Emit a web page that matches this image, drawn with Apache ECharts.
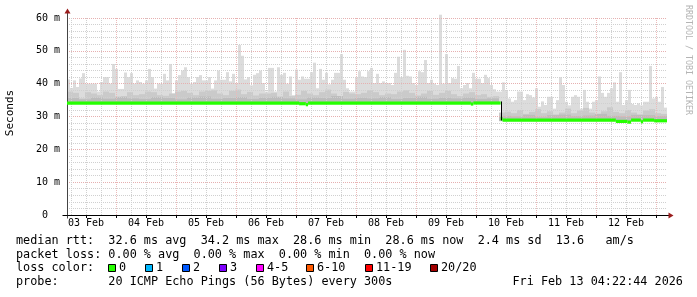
<!DOCTYPE html>
<html><head><meta charset="utf-8">
<script src="https://cdn.jsdelivr.net/npm/echarts@6/dist/echarts.min.js"></script>
<style>html,body{margin:0;padding:0;background:#fff}#c{width:697px;height:297px}</style>
</head><body><div id="c"></div>
<script>
// ---- time axis: hours since 03 Feb 00:00 ----
const startHour = 4.37;   // 03 Feb 04:22
const endHour = 244.37;   // 13 Feb 04:22

// ---- smoke (max ping per 1.2 h bucket), in ms ----
const smokeBucketHours = 1.2;
const smokeMax = [
41.3,38.7,41.0,39.0,41.6,43.2,40.0,40.0,40.0,40.0,
37.6,40.5,42.0,42.0,40.0,46.0,44.5,38.4,38.4,43.4,
42.0,43.2,40.0,41.0,40.5,40.0,41.0,44.5,42.0,38.5,
40.0,40.0,43.0,41.0,46.0,37.0,41.0,42.6,44.0,45.0,
42.0,40.0,40.5,42.0,42.6,41.0,41.0,42.0,38.5,41.0,
44.0,41.2,41.2,43.5,40.7,43.0,40.2,51.8,48.5,41.3,
42.0,39.5,42.7,43.2,44.0,40.2,37.6,44.8,44.8,37.6,
45.0,42.7,43.3,40.0,42.2,36.5,44.3,41.2,42.2,41.5,
41.5,43.5,46.4,38.6,44.5,41.2,43.3,39.8,41.2,43.3,
43.3,49.0,41.2,38.6,37.6,37.6,42.0,43.8,42.2,42.0,
43.8,44.8,40.2,43.0,40.2,40.7,40.2,40.2,39.6,43.3,
48.2,42.0,50.3,42.4,42.2,40.2,39.6,43.8,43.5,47.2,
40.2,41.2,40.0,39.6,61.0,40.0,49.0,40.2,41.7,41.5,
45.4,38.6,39.6,40.2,38.6,43.3,41.5,41.5,40.2,42.7,
41.7,39.6,38.3,37.6,37.6,40.4,38.0,35.5,34.5,35.0,
37.6,37.6,35.0,36.8,36.5,35.8,38.6,33.0,34.6,33.5,
36.0,36.0,32.4,35.0,42.0,39.6,34.5,33.4,36.0,36.5,
36.0,32.4,38.1,34.5,32.4,34.5,35.0,42.2,37.2,36.0,
37.2,38.6,40.4,34.5,43.5,33.5,35.0,38.1,33.8,33.5,
34.0,33.4,34.5,34.5,45.4,35.5,36.0,34.5,39.0,32.7
];
// denser part of the smoke (2.4 h buckets)
const midBucketHours = 2.4;
const smokeMid = [
37.6,37.2,35.5,37.4,37.0,36.5,37.6,37.2,36.0,36.2,
37.4,36.5,36.8,37.6,37.4,36.5,36.3,37.0,37.6,37.8,
37.2,36.5,37.6,37.8,38.0,37.0,36.5,37.8,38.2,36.8,
37.5,36.4,37.0,37.0,37.2,36.0,37.6,36.2,36.6,37.8,
37.0,36.5,37.4,38.2,37.0,36.2,37.5,37.0,36.8,37.2,
38.0,37.4,36.5,37.0,36.8,37.6,38.0,37.2,36.4,37.0,
37.8,36.6,37.2,37.8,36.8,36.2,37.0,37.4,36.5,36.8,
36.0,36.2,31.2,31.5,31.0,32.0,30.8,31.4,32.2,31.0,
31.6,30.6,31.2,32.4,31.0,31.8,32.6,31.2,30.8,31.6,
32.8,31.4,31.0,32.0,31.2,30.6,31.8,32.2,31.0,30.8
];
// densest core of the smoke (4.8 h buckets)
const darkBucketHours = 4.8;
const smokeDark = [
35.6,35.2,35.8,35.4,36.0,35.5,35.3,35.9,35.6,35.2,
35.8,36.1,35.4,35.6,35.9,35.3,35.7,36.0,35.5,35.2,
35.8,35.6,36.2,35.4,35.7,35.5,35.9,35.3,35.6,36.0,
35.4,35.7,35.5,35.8,35.3,35.5,30.2,30.0,30.5,29.8,
30.4,30.6,30.1,30.3,30.8,30.2,30.0,30.5,30.4,30.1
];
// minimum ping (change points)
const smokeMinTimes = [4.37, 177.8];
const smokeMinValues = [33.8, 28.6];

// median rtt (change points: value holds from its time until the next one)
const medianTimes  = [4.37, 97.2, 99.9, 100.8, 165.9, 166.9, 177.8, 178.6, 223.9, 228.5, 230.0, 233.9, 234.8, 239.2];
const medianValues = [34.1, 33.9, 33.6, 34.1, 33.8, 34.1, 29.3, 28.9, 28.5, 28.3, 28.9, 28.4, 28.9, 28.7];

// axis ticks / labels
const xLabelHours = [12, 36, 60, 84, 108, 132, 156, 180, 204, 228];
const xLabels = ['03 Feb','04 Feb','05 Feb','06 Feb','07 Feb','08 Feb','09 Feb','10 Feb','11 Feb','12 Feb'];
const yTicks = [0, 10, 20, 30, 40, 50, 60];
const yLabels = ['0  ', '10 m', '20 m', '30 m', '40 m', '50 m', '60 m'];

// legend texts
const statLines = [
  'median rtt:  32.6 ms avg  34.2 ms max  28.6 ms min  28.6 ms now  2.4 ms sd  13.6   am/s',
  'packet loss: 0.00 % avg  0.00 % max  0.00 % min  0.00 % now',
  'loss color:',
  'probe:       20 ICMP Echo Pings (56 Bytes) every 300s'
];
const stampText = 'Fri Feb 13 04:22:44 2026';
const lossLabels = ['0', '1', '2', '3', '4-5', '6-10', '11-19', '20/20'];
const lossColors = ['#26ff00', '#00b8ff', '#0059ff', '#7e00ff', '#ff00ff', '#ff5a00', '#ff0000', '#a10000'];

// ---------------------------------------------------------------
const MONO = '"DejaVu Sans Mono", monospace';
const minorHours = []; for (let h = 6; h <= 240; h += 6) minorHours.push(h);
const majorHours = []; for (let h = 24; h <= 240; h += 24) majorHours.push(h);
const tickHours = []; for (let h = 12; h <= 240; h += 12) tickHours.push(h);

function stepLookup(times, values, t) {
  let v = values[0];
  for (let i = 0; i < times.length; i++) if (times[i] <= t) v = values[i];
  return v;
}
function smokeSeries(tops, bucket, color, z) {
  const data = tops.map((v, i) => {
    const t0 = startHour + i * bucket, t1 = t0 + bucket;
    return [t0, t1, stepLookup(smokeMinTimes, smokeMinValues, (t0 + t1) / 2), v];
  });
  return {
    type: 'custom', silent: true, z: z, clip: false, xAxisIndex: 2,
    encode: {x: [0, 1], y: [2, 3]},
    renderItem: function (params, api) {
      const a = api.coord([api.value(0), api.value(3)]);
      const b = api.coord([api.value(1), api.value(2)]);
      return {type: 'rect', shape: {x: a[0], y: a[1], width: b[0] - a[0], height: b[1] - a[1]},
              style: {fill: color}};
    },
    data: data
  };
}

// median as held segments [tStart, tEnd, value]
const medianSegments = medianTimes.map((t, i) => [t, i + 1 < medianTimes.length ? medianTimes[i + 1] : endHour, medianValues[i]]);
// vertical connectors where the median jumps [t, from, to]
const medianJumps = medianTimes.slice(1).map((t, i) => [t, medianValues[i], medianValues[i + 1]])
  .filter(j => Math.abs(j[1] - j[2]) > 3);

const GREEN_W = 3.2;
const medianSeries = {
  type: 'custom', silent: true, z: 4, clip: true, xAxisIndex: 2,
  encode: {x: [0, 1], y: 2},
  renderItem: function (params, api) {
    const a = api.coord([api.value(0), api.value(2)]);
    const b = api.coord([api.value(1), api.value(2)]);
    return {type: 'rect', shape: {x: a[0], y: a[1] - GREEN_W / 2, width: b[0] - a[0], height: GREEN_W},
            style: {fill: '#26ff00'}};
  },
  data: medianSegments
};
const jumpSeries = {
  type: 'custom', silent: true, z: 5, clip: true, xAxisIndex: 2,
  encode: {x: 0, y: [1, 2]},
  renderItem: function (params, api) {
    const a = api.coord([api.value(0), api.value(1)]);
    const b = api.coord([api.value(0), api.value(2)]);
    const x = Math.round(a[0]) + 0.5;
    return {type: 'line', shape: {x1: x, y1: a[1] - GREEN_W / 2, x2: x, y2: b[1] + GREEN_W / 2},
            style: {stroke: '#000', lineWidth: 1}};
  },
  data: medianJumps
};

const hiddenAxisBase = {
  type: 'value', min: startHour, max: endHour, z: 2,
  axisLine: {show: false}, axisLabel: {show: false}
};

const chart = echarts.init(document.getElementById('c'), null, {renderer: 'canvas', width: 697, height: 297});
chart.setOption({
  animation: false,
  backgroundColor: '#ffffff',
  grid: {left: 67, top: 18, width: 600, height: 197, outerBoundsMode: 'none'},
  xAxis: [
    Object.assign({}, hiddenAxisBase, {
      axisTick: {show: false, customValues: minorHours},
      splitLine: {show: true, lineStyle: {color: '#d0d0d0', width: 1, type: [1, 1]}}
    }),
    Object.assign({}, hiddenAxisBase, {
      axisTick: {show: false, customValues: majorHours},
      splitLine: {show: true, lineStyle: {color: '#ebbaba', width: 1, type: [1, 1]}}
    }),
    {
      type: 'value', min: startHour, max: endHour, z: 2, position: 'bottom',
      axisLine: {show: true, onZero: false, lineStyle: {color: '#000', width: 1}},
      axisTick: {show: true, customValues: tickHours, length: 3, lineStyle: {color: '#000'}},
      axisLabel: {customValues: xLabelHours, margin: 3, color: '#000', fontFamily: MONO, fontSize: 10,
                  formatter: v => xLabels[xLabelHours.indexOf(Math.round(v))]},
      splitLine: {show: false}
    }
  ],
  yAxis: [{
    type: 'value', min: 0, max: 60, interval: 10, z: 2,
    axisLine: {show: true, onZero: false, lineStyle: {color: '#444', width: 1}},
    axisTick: {show: false},
    axisLabel: {margin: 7, color: '#000', fontFamily: MONO, fontSize: 10,
                formatter: v => yLabels[yTicks.indexOf(Math.round(v))]},
    splitLine: {show: true, lineStyle: {color: '#e6b0b0', width: 1, type: [1, 1]}},
    minorTick: {show: false, splitNumber: 5},
    minorSplitLine: {show: true, lineStyle: {color: '#d0d0d0', width: 1, type: [1, 1]}}
  }],
  series: [
    smokeSeries(smokeMax, smokeBucketHours, '#dcdcdc', 1),
    smokeSeries(smokeMid, midBucketHours, '#cacaca', 1),
    smokeSeries(smokeDark, darkBucketHours, '#bcbcbc', 1),
    medianSeries,
    jumpSeries
  ]
});

// ---- decorations: arrows, titles, legend ----
const pTop = chart.convertToPixel({xAxisIndex: 2, yAxisIndex: 0}, [startHour, 60]);
const pOrigin = chart.convertToPixel({xAxisIndex: 2, yAxisIndex: 0}, [startHour, 0]);
const pEnd = chart.convertToPixel({xAxisIndex: 2, yAxisIndex: 0}, [endHour, 0]);
const ax = Math.round(pOrigin[0]) + 0.5, ay = Math.round(pOrigin[1]) + 0.5;
const arrowColor = '#9a1c1c';
const g = [];
g.push({type: 'line', z: 10, shape: {x1: ax, y1: pTop[1], x2: ax, y2: pTop[1] - 5}, style: {stroke: '#444', lineWidth: 1}});
g.push({type: 'line', z: 10, shape: {x1: ax, y1: ay, x2: ax, y2: ay + 3}, style: {stroke: '#444', lineWidth: 1}});
g.push({type: 'line', z: 10, shape: {x1: ax - 5, y1: ay, x2: ax, y2: ay}, style: {stroke: '#000', lineWidth: 1}});
g.push({type: 'line', z: 10, shape: {x1: pEnd[0], y1: ay, x2: pEnd[0] + 2, y2: ay}, style: {stroke: '#000', lineWidth: 1}});
g.push({type: 'polygon', z: 10, shape: {points: [[ax - 3, pTop[1] - 4.5], [ax + 3, pTop[1] - 4.5], [ax, pTop[1] - 9.5]]}, style: {fill: arrowColor}});
g.push({type: 'polygon', z: 10, shape: {points: [[pEnd[0] + 1.5, ay - 3], [pEnd[0] + 1.5, ay + 3], [pEnd[0] + 6.5, ay]]}, style: {fill: arrowColor}});

g.push({type: 'text', z: 10, x: 10.5, y: 113, rotation: Math.PI / 2,
        style: {text: 'Seconds', x: 0, y: 0, align: 'center', verticalAlign: 'middle', textAlign: 'center', textVerticalAlign: 'middle',
                font: '11px ' + MONO, fill: '#000'}});
g.push({type: 'text', z: 10, x: 688, y: 60, rotation: -Math.PI / 2,
        style: {text: 'RRDTOOL / TOBI OETIKER', x: 0, y: 0, align: 'center', verticalAlign: 'middle', textAlign: 'center', textVerticalAlign: 'middle',
                font: '8.3px ' + MONO, fill: '#b4b4b4'}});

const rowY = [241, 254.7, 268.4, 282];
const legendFont = '11.8px ' + MONO;
statLines.forEach((s, i) => {
  g.push({type: 'text', z: 10, style: {text: s, x: 16, y: rowY[i], align: 'left', verticalAlign: 'middle',
          textAlign: 'left', textVerticalAlign: 'middle', font: legendFont, fill: '#000'}});
});
g.push({type: 'text', z: 10, style: {text: stampText, x: 512.5, y: rowY[3], align: 'left', verticalAlign: 'middle',
        textAlign: 'left', textVerticalAlign: 'middle', font: legendFont, fill: '#000'}});
const boxX = [108.5, 145.5, 182.5, 219.5, 256.5, 306.5, 365.5, 430.5];
lossLabels.forEach((lab, i) => {
  g.push({type: 'rect', z: 10, shape: {x: boxX[i], y: 264.5, width: 7, height: 7},
          style: {fill: lossColors[i], stroke: '#000', lineWidth: 1}});
  g.push({type: 'text', z: 10, style: {text: lab, x: boxX[i] + 10.5, y: rowY[2], align: 'left', verticalAlign: 'middle',
          textAlign: 'left', textVerticalAlign: 'middle', font: legendFont, fill: '#000'}});
});
chart.setOption({graphic: {elements: g}});
</script>
</body></html>
